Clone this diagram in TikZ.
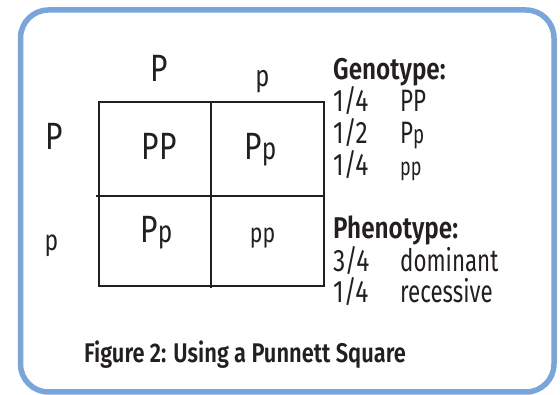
\documentclass[tikz,border=0pt]{standalone}
\usepackage{fontspec}
\setmainfont{Fira Sans}[FakeStretch=0.79]
\newfontfamily\narrowface{Fira Sans}[FakeStretch=0.72]
\newfontfamily\boldface{Fira Sans}[FakeStretch=0.81,UprightFont=* SemiBold]
\definecolor{frameblue}{RGB}{122,164,220}
\definecolor{ink}{RGB}{35,31,32}
\newcommand\fsz[1]{\fontsize{#1}{#1}\selectfont}
\tikzset{
  frame/.style={draw=frameblue,line width=5.5pt,rounded corners=28pt},
  gridline/.style={draw=ink,line width=2pt},
  allele/.style={inner sep=0pt,text=ink,anchor=base},
  cell/.style={inner sep=0pt,text=ink,anchor=base},
  stat/.style={inner sep=0pt,text=ink,anchor=base west,font=\fsz{31}},
  word/.style={stat,font=\narrowface\fsz{31}},
  head/.style={inner sep=0pt,text=ink,anchor=base west,font=\boldface\fsz{30}},
}
\begin{document}
\begin{tikzpicture}[x=1pt,y=-1pt]
\useasboundingbox (0,0) rectangle (560,395);
% outer rounded frame
\draw[frame] (20.5,10) rectangle (554,392);
% Punnett square
\coordinate (tl) at (98.5,102.5);
\coordinate (br) at (323.5,286.5);
\draw[gridline] (tl) rectangle (br);
\coordinate (vt) at (210.5,102.5);
\coordinate (vb) at (210.5,288);
\coordinate (hl) at (96,196);
\coordinate (hr) at (323.5,196);
\draw[gridline] (vt) -- (vb);
\draw[gridline] (hl) -- (hr);
% parental alleles
\node[allele,font=\fsz{38}] (topP) at (159,81.5) {P};
\node[allele,font=\fsz{30}] (topp) at (262.5,86.5) {p};
\node[allele,font=\fsz{38}] (leftP) at (54,150) {P};
\node[allele,font=\fsz{29}] (leftp) at (51.5,251) {p};
% offspring genotypes
\node[cell,font=\fsz{38}] (c11) at (159,160) {PP};
\node[cell,font=\fsz{38}] (c12) at (260.5,160) {P\fsz{31}p};
\node[cell,font=\fsz{38}] (c21) at (156.5,243) {P\fsz{31}p};
\node[cell,font=\fsz{27}] (c22) at (262.5,243) {pp};
% ratios
\node[head] (geno) at (333,80) {Genotype:};
\node[stat] (g1) at (333,112) {1/4};
\node[word] (g1t) at (400,112) {PP};
\node[stat] (g2) at (333,144) {1/2};
\node[word] (g2t) at (400,144) {P\fsz{26}p};
\node[stat] (g3) at (333,176) {1/4};
\node[word,font=\narrowface\fsz{25}] (g3t) at (400,176) {pp};
\node[head] (pheno) at (333,239) {Phenotype:};
\node[stat] (p1) at (333,271.5) {3/4};
\node[word] (p1t) at (400,271.5) {dominant};
\node[stat] (p2) at (333,303) {1/4};
\node[word] (p2t) at (400,303) {recessive};
% caption
\node[inner sep=0pt,text=ink,anchor=base,font=\boldface\fsz{27}] (cap) at (245,363) {Figure 2: Using a Punnett Square};
\end{tikzpicture}
\end{document}
